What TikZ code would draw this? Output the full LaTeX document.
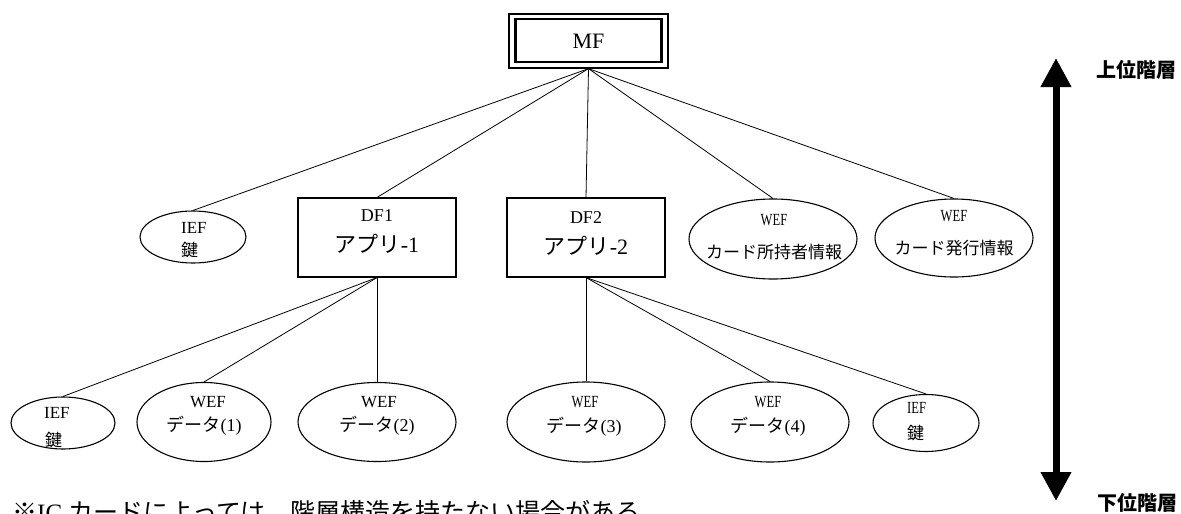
\documentclass[tikz,border=0pt]{standalone}
\usepackage{fontspec}
\usepackage{graphicx}
\setmainfont{Liberation Serif}
\newfontfamily\jp{Noto Sans CJK JP}
\usetikzlibrary{shapes.geometric,arrows.meta}
\newcommand\myfs[1]{\fontsize{#1}{#1}\selectfont}
\newcommand\nar[1]{\scalebox{0.74}[1]{#1}}
\begin{document}
\begin{tikzpicture}[x=1pt,y=-1pt,
  shp/.style={draw=black,line width=1.1pt},
  ell/.style={shp,ellipse,inner sep=0pt},
  box/.style={shp,rectangle,inner sep=0pt},
  conn/.style={draw=black,line width=0.8pt},
  txt/.style={inner sep=0pt,font=\myfs{17}},
  ltxt/.style={txt,anchor=west},
  bigarrow/.style={line width=7pt,{Triangle[width=29pt,length=29pt]}-{Triangle[width=29pt,length=29pt]}},
  side/.style={inner sep=0pt,font={\jp\bfseries\myfs{20}}}
]
\useasboundingbox (0,0) rectangle (1181,514);

% MF
\node[box, minimum width=146pt, minimum height=43pt, line width=2.2pt] (mf) at (588.5,40.5) {};
\node[box, minimum width=159pt, minimum height=54pt, line width=1.3pt] (mfo) at (588.5,41) {};
\node[txt, font=\myfs{22}] (mft) at (588.5,41) {MF};

% second level shapes
\node[ell, minimum width=106pt, minimum height=52pt] (ief1) at (193,237) {};
\node[box, minimum width=158pt, minimum height=79pt] (df1) at (377,237.5) {};
\node[box, minimum width=158pt, minimum height=79pt] (df2) at (586,237.5) {};
\node[ell, minimum width=168pt, minimum height=80pt] (wch) at (773,239) {};
\node[ell, minimum width=158pt, minimum height=78pt] (wci) at (954,238) {};

% second level texts
\node[ltxt] (ief1a) at (181,228) {IEF};
\node[ltxt] (ief1b) at (181,250) {\jp 鍵};
\node[txt, font=\myfs{18}] (df1a) at (377,216) {DF1};
\node[txt, font=\myfs{22}] (df1b) at (377,244) {{\jp アプリ}-1};
\node[txt, font=\myfs{18}] (df2a) at (586,218) {DF2};
\node[txt, font=\myfs{22}] (df2b) at (586,246) {{\jp アプリ}-2};
\node[txt] (wcha) at (774,220) {\nar{WEF}};
\node[txt] (wchb) at (774,252) {\jp カード所持者情報};
\node[txt] (wcia) at (954,216) {\nar{WEF}};
\node[txt] (wcib) at (954,248) {\jp カード発行情報};

% third level shapes
\node[ell, minimum width=104pt, minimum height=52pt] (ief2) at (63,423) {};
\node[ell, minimum width=134pt, minimum height=79pt] (wd1) at (204,422) {};
\node[ell, minimum width=158pt, minimum height=79pt] (wd2) at (377,422) {};
\node[ell, minimum width=158pt, minimum height=80pt] (wd3) at (586,422) {};
\node[ell, minimum width=158pt, minimum height=80pt] (wd4) at (770,422) {};
\node[ell, minimum width=106pt, minimum height=57pt] (ief3) at (926,423) {};

% third level texts
\node[ltxt] (ief2a) at (44,413) {IEF};
\node[ltxt] (ief2b) at (45,440) {\jp 鍵};
\node[txt] (wd1a) at (208,402) {WEF};
\node[txt, font=\myfs{18}] (wd1b) at (204,426) {{\jp データ}(1)};
\node[txt] (wd2a) at (379,402) {WEF};
\node[txt, font=\myfs{18}] (wd2b) at (377,426) {{\jp データ}(2)};
\node[txt] (wd3a) at (585,402) {\nar{WEF}};
\node[txt, font=\myfs{18}] (wd3b) at (584,427) {{\jp データ}(3)};
\node[txt] (wd4a) at (768,402) {\nar{WEF}};
\node[txt, font=\myfs{18}] (wd4b) at (768,427) {{\jp データ}(4)};
\node[ltxt] (ief3a) at (907,408) {\nar{IEF}};
\node[ltxt] (ief3b) at (907,433) {\jp 鍵};

% connectors
\draw[conn] (mfo.south) -- (ief1.north);
\draw[conn] (mfo.south) -- (df1.north);
\draw[conn] (mfo.south) -- (df2.north);
\draw[conn] (mfo.south) -- (wch.north);
\draw[conn] (mfo.south) -- (wci.north);
\draw[conn] (df1.south) -- (ief2.north);
\draw[conn] (df1.south) -- (wd1.north);
\draw[conn] (df1.south) -- (wd2.north);
\draw[conn] (df2.south) -- (wd3.north);
\draw[conn] (df2.south) -- (wd4.north);
\draw[conn] (df2.south) -- (ief3.north);

% hierarchy arrow
\coordinate (arT) at (1056,58);
\coordinate (arB) at (1056,501);
\draw[bigarrow] (arT) -- (arB);
\node[side] (up) at (1136,70) {上位階層};
\node[side] (down) at (1137,503) {下位階層};

% footnote
\node[anchor=base west, inner sep=0pt, font=\myfs{25}] (note) at (12,521) {{\jp ※}IC {\jp カードによっては、階層構造を持たない場合がある}};
\end{tikzpicture}
\end{document}
